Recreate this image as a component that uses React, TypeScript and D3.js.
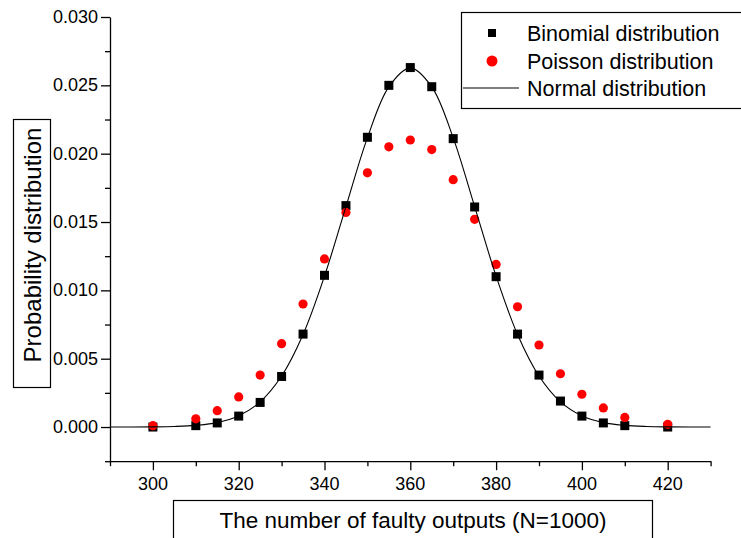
import { useRef, useEffect } from 'react';
import * as d3 from 'd3';

// x positions of the sampled points
const counts = [300, 310, 315, 320, 325, 330, 335, 340, 345, 350, 355, 360, 365, 370, 375, 380, 385, 390, 395, 400, 405, 410, 420];
const binomial = [0.0000, 0.0001, 0.0003, 0.0008, 0.0018, 0.0037, 0.0068, 0.0111, 0.0162, 0.0212, 0.0250, 0.0263, 0.0249, 0.0211, 0.0161, 0.0110, 0.0068, 0.0038, 0.0019, 0.0008, 0.0003, 0.0001, 0.0000];
const poisson = [0.0001, 0.0006, 0.0012, 0.0022, 0.0038, 0.0061, 0.0090, 0.0123, 0.0157, 0.0186, 0.0205, 0.0210, 0.0203, 0.0181, 0.0152, 0.0119, 0.0088, 0.0060, 0.0039, 0.0024, 0.0014, 0.0007, 0.0002];

// normal curve
const normalX = [290, 295, 300, 305, 310, 315, 320, 325, 330, 335, 340, 345, 350, 355, 360, 365, 370, 375, 380, 385, 390, 395, 400, 405, 410, 415, 420, 425, 430];
const normalY = [0, 0, 0.00001, 0.00004, 0.00012, 0.00032, 0.00082, 0.00184, 0.00373, 0.00677, 0.01104, 0.01613, 0.02116, 0.02489, 0.02628, 0.02489, 0.02116, 0.01613, 0.01104, 0.00677, 0.00373, 0.00184, 0.00082, 0.00032, 0.00012, 0.00004, 0.00001, 0, 0];

const legendItems = ['Binomial distribution', 'Poisson distribution', 'Normal distribution'];
const xTicks = [300, 320, 340, 360, 380, 400, 420];
const yTicks = [0, 0.005, 0.01, 0.015, 0.02, 0.025, 0.03];

const FONT = 'Arial, "Liberation Sans", sans-serif';

const App = () => {
  const svgRef = useRef<SVGSVGElement>(null);

  useEffect(() => {
    const svg = d3.select(svgRef.current);
    svg.selectAll('*').remove();

    const x = d3.scaleLinear().domain([290, 430]).range([110, 710.6]);
    const y = d3.scaleLinear().domain([-0.0025, 0.03]).range([461.2, 17]);

    // axes
    const xAxis = svg.append('g').attr('transform', `translate(0,${y(-0.0025)})`);
    xAxis.call(d3.axisBottom(x).tickValues(d3.range(290, 431, 10)).tickSize(5).tickFormat(() => '').tickSizeOuter(0));
    xAxis.call(g => g.selectAll('.tick line').attr('y2', (d: any) => (d % 20 === 0 ? 9 : 5)));
    xAxis.select('.domain').attr('stroke-width', 1.3);
    xAxis.selectAll('.tick line').attr('stroke-width', 1.3);

    const yAxis = svg.append('g').attr('transform', `translate(${x(290)},0)`);
    yAxis.call(d3.axisLeft(y).tickValues(d3.range(-0.0025, 0.03001, 0.0025)).tickFormat(() => '').tickSizeOuter(0));
    yAxis.call(g => g.selectAll('.tick line').attr('x2', (d: any) => (Math.abs(Math.round(d * 10000) % 50) === 0 ? -9 : -5)));
    yAxis.select('.domain').attr('stroke-width', 1.3);
    yAxis.selectAll('.tick line').attr('stroke-width', 1.3);

    svg.append('g').selectAll('text').data(xTicks).join('text')
      .attr('x', d => x(d)).attr('y', 490)
      .attr('text-anchor', 'middle')
      .attr('font-family', FONT).attr('font-size', 18)
      .text(d => d);

    svg.append('g').selectAll('text').data(yTicks).join('text')
      .attr('x', 98).attr('y', d => y(d) + 6)
      .attr('text-anchor', 'end')
      .attr('font-family', FONT).attr('font-size', 18)
      .text(d => d.toFixed(3));

    // binomial squares
    svg.append('g').selectAll('rect').data(binomial).join('rect')
      .attr('x', (d, i) => x(counts[i]) - 4.5)
      .attr('y', d => y(d) - 4.5)
      .attr('width', 9).attr('height', 9)
      .attr('fill', '#000');

    // poisson circles
    svg.append('g').selectAll('circle').data(poisson).join('circle')
      .attr('cx', (d, i) => x(counts[i]))
      .attr('cy', d => y(d))
      .attr('r', 4.6)
      .attr('fill', '#ff0000');

    // normal line
    const line = d3.line<number>()
      .x((d, i) => x(normalX[i]))
      .y(d => y(d))
      .curve(d3.curveCatmullRom);
    svg.append('path')
      .attr('d', line(normalY))
      .attr('fill', 'none')
      .attr('stroke', '#000')
      .attr('stroke-width', 1.1);

    // legend
    const lg = svg.append('g');
    lg.append('rect').attr('x', 461.5).attr('y', 12.5).attr('width', 300).attr('height', 96)
      .attr('fill', 'none').attr('stroke', '#000').attr('stroke-width', 1.2);
    const rowY = [33, 61, 88];
    lg.append('rect').attr('x', 488).attr('y', rowY[0] - 4).attr('width', 8).attr('height', 8).attr('fill', '#000');
    lg.append('circle').attr('cx', 492).attr('cy', rowY[1]).attr('r', 5.5).attr('fill', '#ff0000');
    lg.append('line').attr('x1', 463).attr('x2', 519).attr('y1', rowY[2]).attr('y2', rowY[2])
      .attr('stroke', '#000').attr('stroke-width', 1.1);
    lg.selectAll('text').data(legendItems).join('text')
      .attr('x', 527).attr('y', (d, i) => rowY[i] + 7.5)
      .attr('font-family', FONT).attr('font-size', 21.5)
      .text(d => d);

    // axis title boxes
    svg.append('rect').attr('x', 13.5).attr('y', 119.5).attr('width', 37).attr('height', 268)
      .attr('fill', 'none').attr('stroke', '#000').attr('stroke-width', 1.2);
    svg.append('text')
      .attr('transform', `translate(40.5,245) rotate(-90)`)
      .attr('text-anchor', 'middle')
      .attr('font-family', FONT).attr('font-size', 24)
      .text('Probability distribution');

    svg.append('rect').attr('x', 173.5).attr('y', 500.5).attr('width', 479).attr('height', 50)
      .attr('fill', 'none').attr('stroke', '#000').attr('stroke-width', 1.2);
    svg.append('text')
      .attr('x', 413).attr('y', 527.5)
      .attr('text-anchor', 'middle')
      .attr('font-family', FONT).attr('font-size', 22.5)
      .text('The number of faulty outputs (N=1000)');
  }, []);

  return (
    <svg ref={svgRef} width={741} height={538}
      style={{ position: 'absolute', left: 0, top: 0, background: '#fff' }} />
  );
};

export default App;
